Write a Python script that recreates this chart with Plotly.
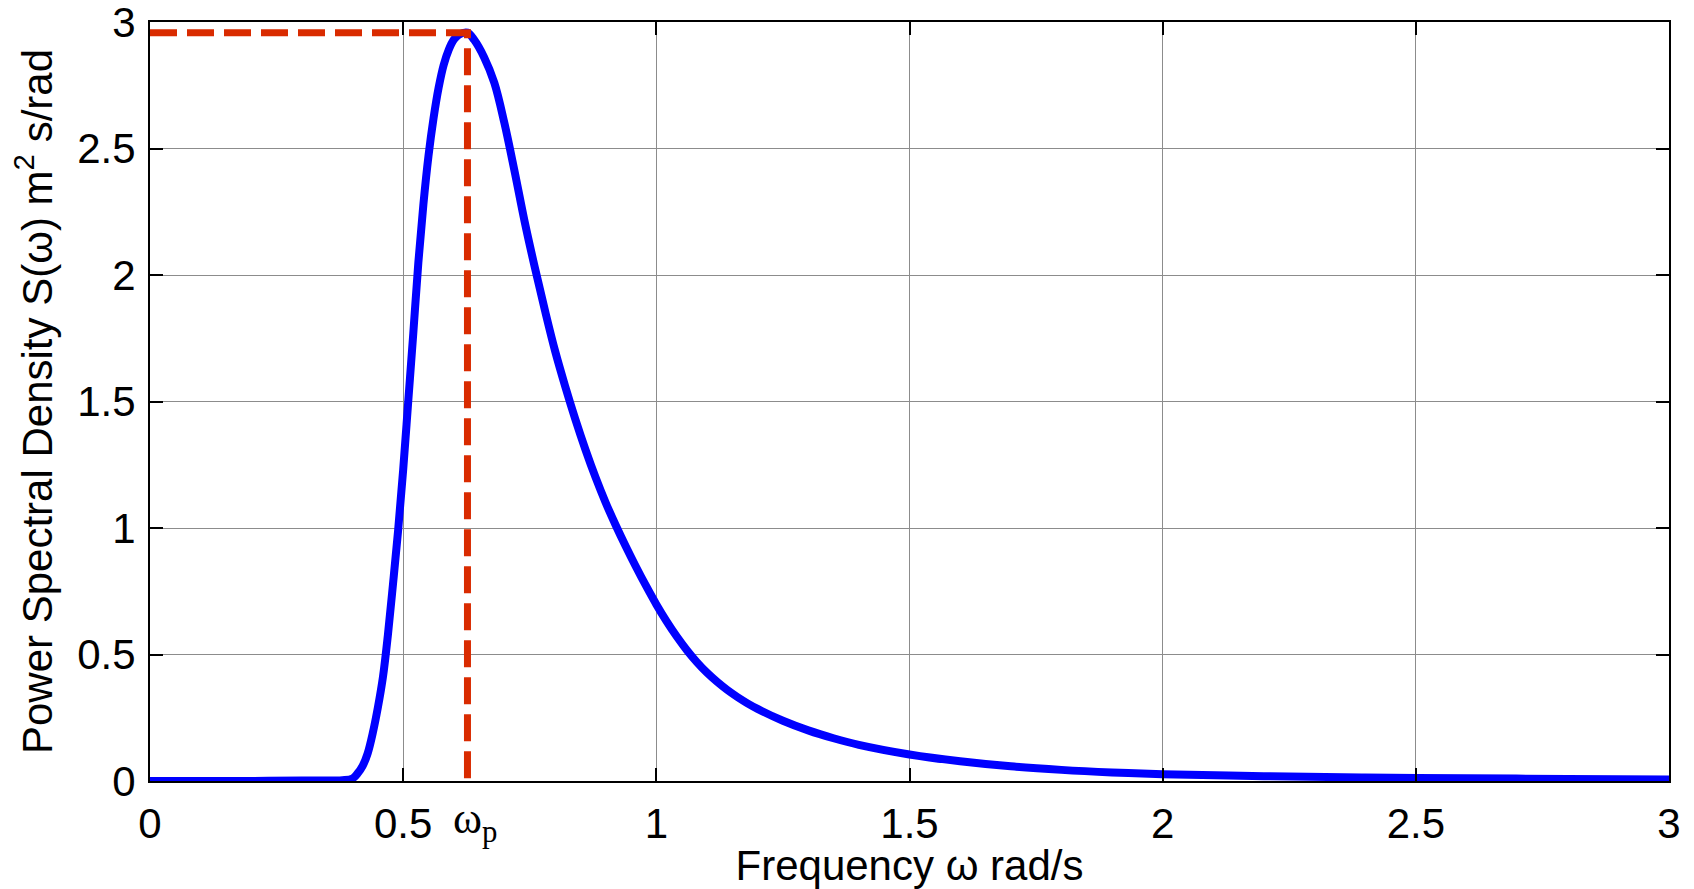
import plotly.graph_objects as go

# ---- data ----
omega = [0.00, 0.10, 0.20, 0.30, 0.38, 0.40, 0.41, 0.42, 0.43, 0.44, 0.45, 0.46, 0.47,
         0.48, 0.49, 0.50, 0.51, 0.52, 0.53, 0.54, 0.55, 0.56, 0.57, 0.58, 0.59, 0.60,
         0.61, 0.627, 0.64, 0.66, 0.68, 0.70, 0.72, 0.74, 0.76, 0.78, 0.80, 0.82, 0.84,
         0.86, 0.88, 0.90, 0.92, 0.94, 0.96, 0.98, 1.00, 1.02, 1.04, 1.06, 1.08, 1.10,
         1.12, 1.14, 1.16, 1.18, 1.20, 1.25, 1.30, 1.35, 1.40, 1.50, 1.60, 1.70, 1.80,
         1.90, 2.00, 2.20, 2.40, 2.60, 2.80, 3.00]
spectrum = [0.000, 0.000, 0.000, 0.002, 0.003, 0.010, 0.030, 0.060, 0.110, 0.190, 0.290,
            0.410, 0.580, 0.780, 0.990, 1.230, 1.500, 1.770, 2.050, 2.280, 2.470, 2.620,
            2.740, 2.830, 2.890, 2.930, 2.950, 2.958, 2.930, 2.860, 2.760, 2.600, 2.410,
            2.210, 2.030, 1.860, 1.700, 1.560, 1.430, 1.310, 1.200, 1.100, 1.010, 0.926,
            0.846, 0.770, 0.698, 0.632, 0.572, 0.518, 0.470, 0.428, 0.392, 0.360, 0.332,
            0.307, 0.285, 0.238, 0.200, 0.169, 0.143, 0.105, 0.078, 0.058, 0.044, 0.034,
            0.027, 0.019, 0.014, 0.011, 0.008, 0.006]

omega_p = 0.627
S_peak = 2.958

x_ticks = [0, 0.5, 1, 1.5, 2, 2.5, 3]
x_ticktext = ["0", "0.5", "1", "1.5", "2", "2.5", "3"]
y_ticks = [0, 0.5, 1, 1.5, 2, 2.5, 3]
y_ticktext = ["0", "0.5", "1", "1.5", "2", "2.5", "3"]

FONT = "Liberation Sans, Arial, sans-serif"

fig = go.Figure()
fig.add_trace(go.Scatter(
    x=omega, y=spectrum, mode="lines",
    line=dict(color="#0000FF", width=8, shape="spline", smoothing=1.0),
    hoverinfo="skip"))
fig.add_trace(go.Scatter(
    x=[0, omega_p, omega_p], y=[S_peak, S_peak, 0], mode="lines",
    line=dict(color="#D92B00", width=7, dash="27px,10px"),
    hoverinfo="skip"))

axis_common = dict(
    showline=True, linecolor="black", linewidth=2, mirror="ticks",
    ticks="inside", ticklen=13, tickwidth=1.5, tickcolor="black",
    showgrid=True, gridcolor="#8c8c8c", gridwidth=1, zeroline=False,
    ticklabeloverflow="allow", automargin=False,
    tickfont=dict(family=FONT, size=42, color="black"),
)

fig.update_xaxes(range=[0, 3], tickvals=x_ticks, ticktext=x_ticktext,
                 ticklabelstandoff=5,
                 title=dict(text="Frequency ω rad/s", standoff=12,
                            font=dict(family=FONT, size=42, color="black")),
                 **axis_common)
fig.update_yaxes(range=[0, 3], tickvals=y_ticks, ticktext=y_ticktext,
                 ticklabelstandoff=4,
                 title=dict(text="Power Spectral Density S(ω) m<sup>2</sup> s/rad", standoff=12,
                            font=dict(family=FONT, size=42, color="black")),
                 **axis_common)

fig.add_annotation(x=omega_p, y=0, xref="x", yref="paper",
                   text="ω<sub>p</sub>", showarrow=False,
                   xanchor="center", yanchor="top", xshift=8, yshift=-11,
                   font=dict(family="Liberation Serif, Times New Roman, serif", size=44, color="black"))

fig.update_layout(
    width=1694, height=889,
    margin=dict(l=150, r=25, t=22, b=108),
    plot_bgcolor="white", paper_bgcolor="white",
    showlegend=False,
    font=dict(family=FONT, size=42, color="black"),
)

fig.write_html("out.html", config={"displayModeBar": False},
               post_script="document.body.style.margin='0';")
